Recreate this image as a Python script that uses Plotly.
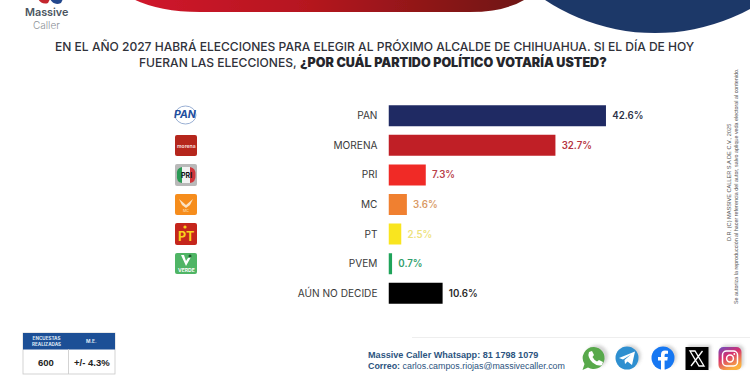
import base64
import plotly.graph_objects as go

# ---- data ----
categories = ["PAN", "MORENA", "PRI", "MC", "PT", "PVEM", "AÚN NO DECIDE"]
values = [42.6, 32.7, 7.3, 3.6, 2.5, 0.7, 10.6]
labels = ["42.6%", "32.7%", "7.3%", "3.6%", "2.5%", "0.7%", "10.6%"]
bar_colors = ["#1f2a63", "#c01f26", "#f02a26", "#f08030", "#f9e51f", "#1fa35a", "#000000"]
label_colors = ["#2d3148", "#b5353f", "#b8404a", "#d99a66", "#eee27c", "#2f9e6c", "#2a2a2a"]
title_line1 = "EN EL AÑO 2027 HABRÁ ELECCIONES PARA ELEGIR AL PRÓXIMO ALCALDE DE CHIHUAHUA. SI EL DÍA DE HOY"
title_line2a = "FUERAN LAS ELECCIONES,"
title_line2b = "¿POR CUÁL PARTIDO POLÍTICO VOTARÍA USTED?"

W, H = 750, 375
FONT = "Inter"
fx = lambda p: p / W
fy = lambda p: 1 - p / H


def txt(x, y, s, size, color="#333333", anchor="center", family=FONT, weight=None, angle=0):
    f = dict(size=size, color=color, family=family)
    if weight:
        f["weight"] = weight
    return dict(xref="paper", yref="paper", x=fx(x), y=fy(y), text=s, showarrow=False, font=f,
                xanchor=anchor, yanchor="middle", textangle=angle, align="center", borderpad=0, borderwidth=0)


# decorative artwork (banner, disc, party badges, table frame, social icons)
decor = f'''<svg xmlns="http://www.w3.org/2000/svg" width="{W}" height="{H}" viewBox="0 0 {W} {H}">
<defs>
<linearGradient id="r" x1="0" x2="1" y1="0" y2="0"><stop offset="0" stop-color="#d0182c"/><stop offset="0.45" stop-color="#b5161f"/><stop offset="1" stop-color="#6e1412"/></linearGradient>
<linearGradient id="ig" x1="0" x2="0.5" y1="0" y2="1"><stop offset="0" stop-color="#6a4fc4"/><stop offset="0.45" stop-color="#d6306e"/><stop offset="1" stop-color="#fbb040"/></linearGradient>
<filter id="b" x="-5%" y="-5%" width="110%" height="110%"><feGaussianBlur stdDeviation="0.35"/></filter>
<filter id="s" x="-30%" y="-30%" width="160%" height="160%"><feGaussianBlur stdDeviation="1.4"/></filter>
</defs>
<g filter="url(#b)">
<path d="M133 -1 Q160 12 200 12 L470 12 Q505 12 526 -1 Z" fill="url(#r)"/>
<circle cx="655" cy="-167" r="200" fill="#1f3768"/>
<path d="M38 -1 Q42 5 48 3 L50 -1 Z" fill="#c4262e"/><path d="M50 -1 Q54 6 61 3 L63 -1 Z" fill="#24468c"/>

<ellipse cx="185.5" cy="115" rx="10.5" ry="9" fill="none" stroke="#7f9ac8" stroke-width="0.8"/>
<rect x="175" y="135" width="22" height="21" rx="2" fill="#b5251d"/>
<rect x="175" y="164" width="22" height="22" rx="2" fill="#b9b9b9"/>
<path d="M182 167 Q176 168 177 175 Q176 182 182 183 Z" fill="#2a9a55"/>
<rect x="182" y="167" width="8" height="16" fill="#f2f2f2"/>
<path d="M190 167 Q196 168 195.5 175 Q196 182 190 183 Z" fill="#d0353a"/>
<rect x="175" y="194" width="22" height="21" rx="2" fill="#f68d1e"/>
<path d="M179 199 L186 205 L193 199 L190 205 L186 208 L182 205 Z" fill="#fbe3c4"/>
<rect x="175" y="223" width="22" height="22" rx="2" fill="#c5281f"/>
<circle cx="185" cy="227" r="1.6" fill="#f8d21c"/>
<rect x="175" y="253" width="22" height="21" rx="2" fill="#4fb565"/>
<path d="M181 255 L186 266 L191 257 L188 258 L186 261 L184 255 Z" fill="#ffffff"/><circle cx="190" cy="256" r="1.5" fill="#1d5a2c"/>

<rect x="23" y="333" width="92" height="41" fill="#ffffff" stroke="#c8c8c8" stroke-width="0.8"/>
<rect x="23" y="333" width="92" height="16.5" fill="#1f4f96"/>
<line x1="68.5" x2="68.5" y1="349" y2="374" stroke="#c8c8c8" stroke-width="0.8"/>
<line x1="412" x2="750" y1="337.5" y2="337.5" stroke="#eeeeee"/>

<g opacity="0.35" filter="url(#s)"><circle cx="597" cy="356" r="11" fill="#888"/><circle cx="630" cy="356" r="11" fill="#888"/><circle cx="666" cy="356" r="11" fill="#888"/><rect x="688" y="345" width="23" height="23" fill="#888"/><rect x="721" y="345" width="23" height="23" rx="5" fill="#888"/></g>
<path d="M594 347 A11 11 0 1 1 588 367.5 L582.5 370 L584.5 364 A11 11 0 0 1 594 347 Z" fill="#58a94b"/>
<path d="M589 352 L592 351 L594 355 L592.5 357 Q594 360 597 361.5 L599 360 L603 362 L602 365 Q598 367 592.5 362.5 Q587 357 589 352 Z" fill="#ffffff"/>
<circle cx="627" cy="358" r="11.5" fill="#2f8fd0"/>
<path d="M619 358 L635 351.5 L632 365 L627.5 361.5 L625 364 L624.5 360 L631 354.5 L623 359.5 Z" fill="#ffffff"/>
<circle cx="663" cy="358" r="11.5" fill="#1877f2"/>
<path d="M661 370 L661 360.5 L658 360.5 L658 357 L661 357 L661 354.5 Q661 350.5 665 350.5 L668 350.7 L668 353.8 L666 353.8 Q664.6 353.8 664.6 355.2 L664.6 357 L667.8 357 L667.3 360.5 L664.6 360.5 L664.6 370 Z" fill="#ffffff"/>
<rect x="685.5" y="347" width="23" height="23" fill="#050505"/>
<path d="M690 351 L695 351 L704 366 L699 366 Z M702.5 351 L691 366" fill="none" stroke="#ffffff" stroke-width="1.3"/>
<rect x="718.5" y="347" width="23" height="23" rx="5" fill="url(#ig)"/>
<rect x="722.5" y="351" width="15" height="15" rx="4" fill="none" stroke="#ffffff" stroke-width="1.5"/>
<circle cx="730" cy="358.5" r="3.4" fill="none" stroke="#ffffff" stroke-width="1.5"/><circle cx="734.3" cy="354" r="0.9" fill="#ffffff"/>
</g>
</svg>'''
decor_uri = "data:image/svg+xml;base64," + base64.b64encode(decor.encode()).decode()

ann = [
    txt(46, 12.5, "Massive", 10.8, "#4a5560", weight=600),
    txt(46, 24.5, "Caller", 10, "#8b9096", weight=300),
    txt(375, 46, title_line1, 12.05, "#30323a", weight=500),
    txt(297, 62, title_line2a, 12.05, "#30323a", anchor="right", weight=500),
    txt(300, 62, title_line2b, 12.55, "#25262c", anchor="left", weight=900),
    # badges
    txt(185.5, 115, "<b><i>PAN</i></b>", 10.5, "#1f4e9e"),
    txt(186, 145.5, "<b>morena</b>", 5, "#f4d8d4"),
    txt(186, 175, "<b>PRI</b>", 7, "#111111"),
    txt(186, 211, "MC", 3.5, "#fbe6c8"),
    txt(186, 236, "<b>PT</b>", 12.5, "#f8d21c"),
    txt(186, 270, "<b>VERDE</b>", 5, "#ffffff"),
    # table
    txt(46, 341, "<b>ENCUESTAS<br>REALIZADAS</b>", 4.6, "#dfe8f5"),
    txt(91.5, 340.5, "<b>M.E.</b>", 4.8, "#dfe8f5"),
    txt(46, 362, "<b>600</b>", 9.5, "#222222", family="Liberation Sans"),
    txt(92, 362, "<b>+/- 4.3%</b>", 9.5, "#222222", family="Liberation Sans"),
    # footer
    txt(368, 355, "<b>Massive Caller Whatsapp: 81 1798 1079</b>", 9.1, "#2c5480", anchor="left", family="Liberation Sans"),
    txt(368, 366, "<b>Correo:</b> carlos.campos.riojas@massivecaller.com", 8.9, "#2c5480", anchor="left", family="Liberation Sans"),
    # legal
    txt(729, 183, "D.R. (C) MASSIVE CALLER S.A DE C.V., 2025", 5.6, "#555555", family="Liberation Sans", angle=-90),
    txt(736, 186, "Se autoriza la reproducción al hacer referencia del autor, salvo aplique veda electoral al contenido.",
        5.4, "#555555", family="Liberation Sans", angle=-90),
]

fig = go.Figure(go.Bar(
    x=values, y=categories, orientation="h",
    marker=dict(color=bar_colors, line=dict(width=0)),
    text=labels, texttemplate="\u2009\u2009%{text}", textposition="outside", cliponaxis=False,
    textfont=dict(color=label_colors, size=9.7, family=FONT, weight=600),
    hoverinfo="skip",
))
fig.update_layout(
    width=W, height=H, margin=dict(l=0, r=0, t=0, b=0), autosize=False,
    paper_bgcolor="#ffffff", plot_bgcolor="rgba(0,0,0,0)", showlegend=False,
    bargap=0.29, annotations=ann,
    images=[dict(source=decor_uri, xref="paper", yref="paper", x=0, y=1, sizex=1, sizey=1,
                 xanchor="left", yanchor="top", sizing="stretch", layer="below")],
    xaxis=dict(domain=[388.5 / W, 700 / W], range=[0, 311.5 / 5.105], visible=False, fixedrange=True),
    yaxis=dict(domain=[fy(308), fy(101)], autorange="reversed", showline=False, showgrid=False, zeroline=False,
               ticks="outside", ticklen=8, tickcolor="rgba(0,0,0,0)",
               tickfont=dict(size=10.1, color="#3a3a3a", family=FONT), fixedrange=True),
)
fig.write_html("out.html", config={"displayModeBar": False},
               post_script="document.body.style.margin='0';document.body.style.overflow='hidden';")
